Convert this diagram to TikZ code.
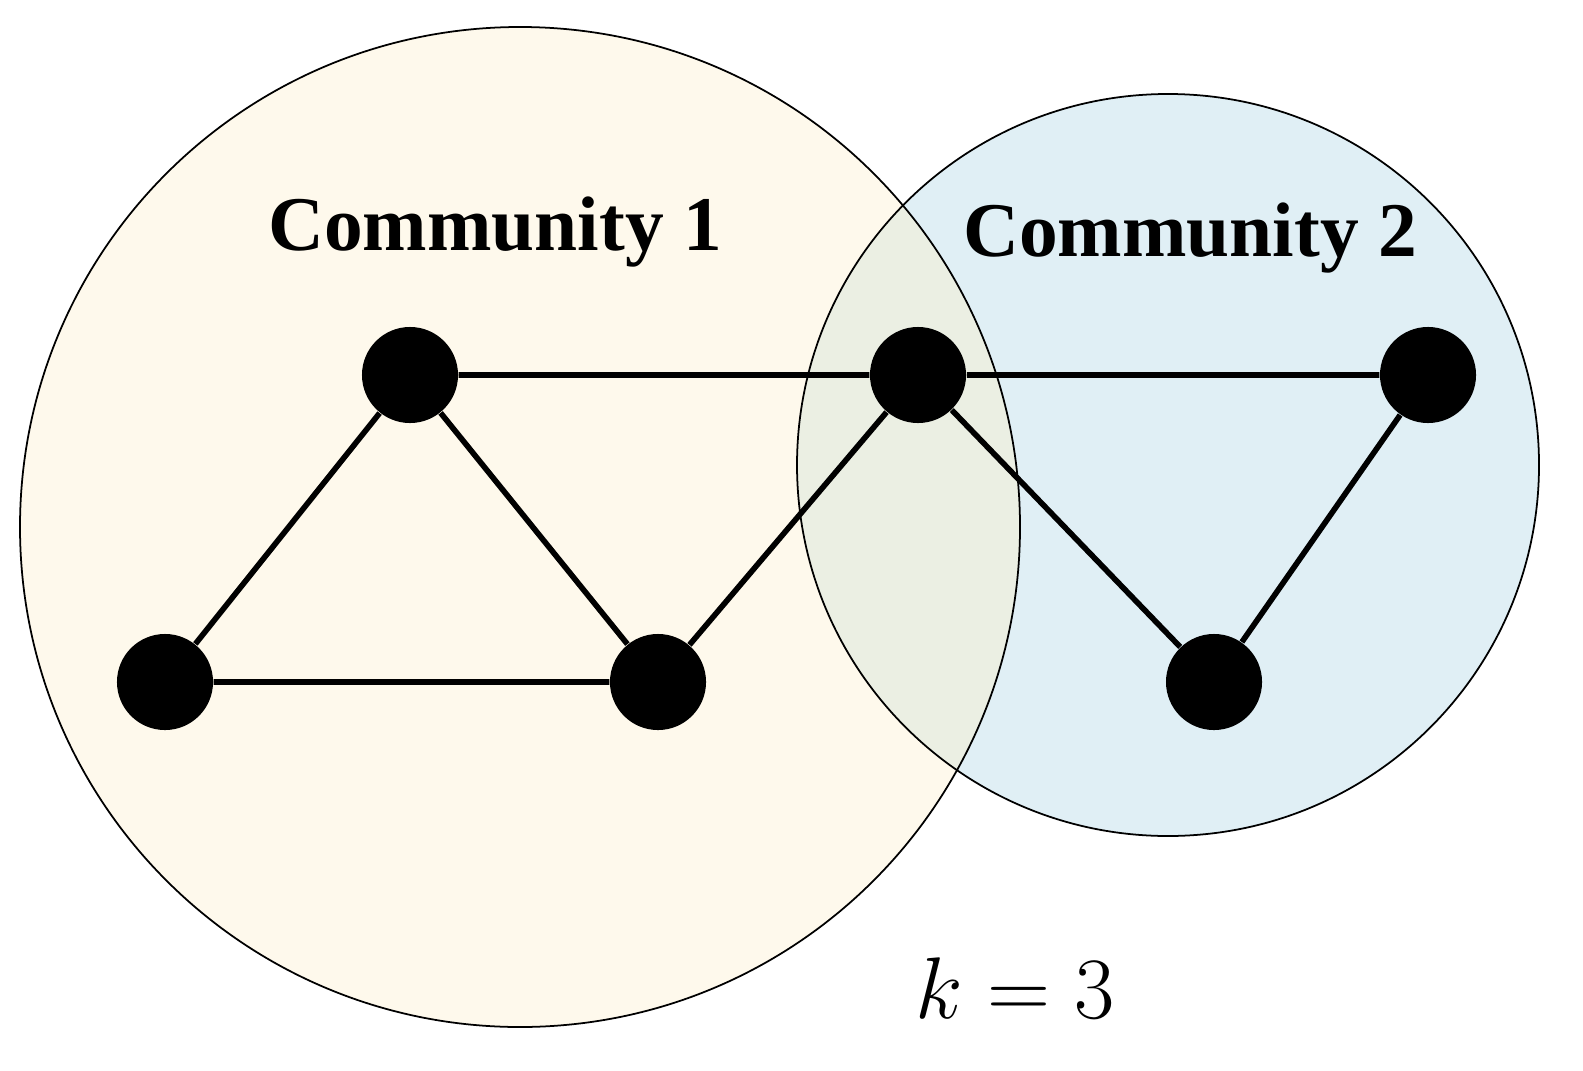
\documentclass[tikz,border=0pt]{standalone}
\usepackage{fontspec}
\setmainfont{Liberation Serif}
\begin{document}
\begin{tikzpicture}[x=0.01cm,y=-0.01cm,
  vert/.style={circle,fill=black,minimum size=0.96cm,inner sep=0pt},
  edge/.style={line width=1.6pt},
  lbl/.style={font=\fontsize{22}{26}\selectfont\bfseries}]
\useasboundingbox (0,0) rectangle (1583,1070);
\definecolor{cA}{HTML}{FEF9EC}
\definecolor{cB}{HTML}{E0EFF5}
\definecolor{cAB}{HTML}{EBEFE3}
\fill[cA] (520,527) circle (500);
\fill[cB] (1168,465) circle (371);
\begin{scope}
\clip (520,527) circle (500);
\fill[cAB] (1168,465) circle (371);
\end{scope}
\draw[line width=0.5pt] (520,527) circle (500);
\draw[line width=0.5pt] (1168,465) circle (371);
\node[lbl] (t1) at (495,232) {Community 1};
\node[lbl] (t2) at (1190,238) {Community 2};
\node[font=\fontsize{23}{26}\selectfont] (k) at (1015,988) {$k=3$};
\node[vert] (a) at (410,375) {};
\node[vert] (b) at (918,375) {};
\node[vert] (c) at (1428,375) {};
\node[vert] (d) at (165,682) {};
\node[vert] (e) at (658,682) {};
\node[vert] (f) at (1214,682) {};
\draw[edge] (a)--(b) (a)--(d) (a)--(e) (d)--(e) (e)--(b) (b)--(c) (b)--(f) (c)--(f);
\end{tikzpicture}
\end{document}
